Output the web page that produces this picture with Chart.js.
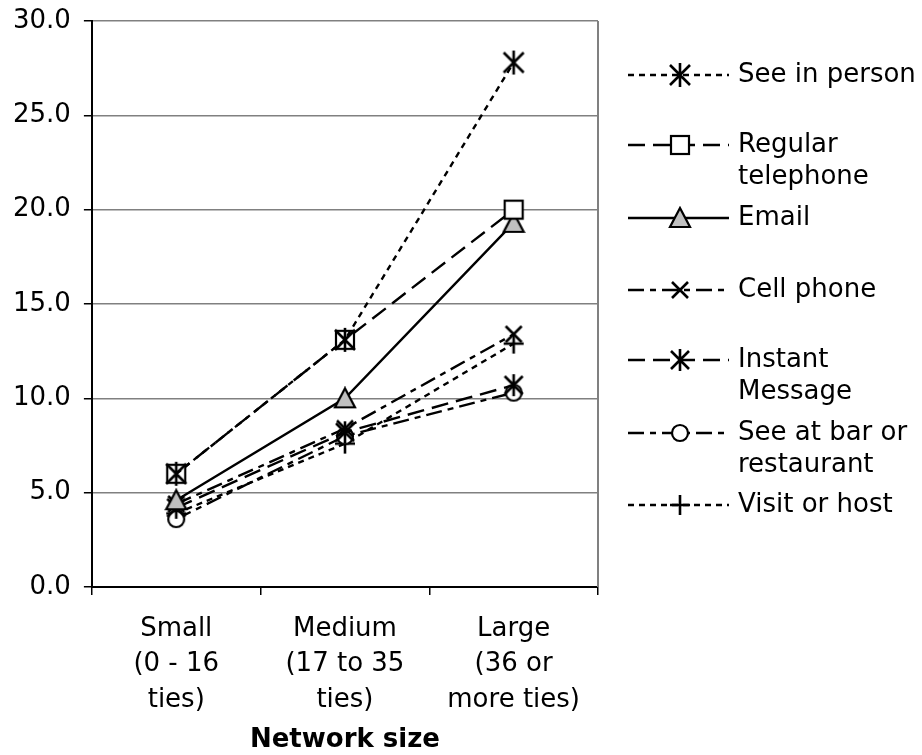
<!DOCTYPE html>
<html><head><meta charset="utf-8">
<script src="https://cdn.jsdelivr.net/npm/chart.js@4"></script>
<style>html,body{margin:0;padding:0;background:#fff}#wrap{width:922px;height:755px}</style>
</head><body><div id="wrap"><canvas id="c" width="922" height="755"></canvas></div>
<script>
const categories = [['Small','(0 - 16','ties)'],['Medium','(17 to 35','ties)'],['Large','(36 or','more ties)']];
const seriesNames = ['See in person',['Regular','telephone'],'Email','Cell phone',['Instant','Message'],['See at bar or','restaurant'],'Visit or host'];
const seeInPerson = [6.0, 13.1, 27.8];
const regularTelephone = [6.0, 13.1, 20.0];
const email = [4.6, 10.0, 19.3];
const cellPhone = [4.4, 8.4, 13.4];
const instantMessage = [4.2, 8.2, 10.7];
const seeAtBar = [3.6, 8.0, 10.3];
const visitOrHost = [3.9, 7.6, 12.9];
const yTicks = [0,5,10,15,20,25,30];
const xTitle = 'Network size';

function mk(size, draw){const c=document.createElement('canvas');c.width=size;c.height=size;const g=c.getContext('2d');g.strokeStyle='#000';g.lineWidth=2;draw(g,size);return c;}
const asterisk = mk(26,(g,s)=>{g.lineWidth=2.6;g.beginPath();g.moveTo(3,3);g.lineTo(23,23);g.moveTo(23,3);g.lineTo(3,23);g.moveTo(13,1);g.lineTo(13,25);g.stroke();});
const asteriskSm = mk(24,(g,s)=>{g.lineWidth=2.6;g.beginPath();g.moveTo(3,3);g.lineTo(21,21);g.moveTo(21,3);g.lineTo(3,21);g.moveTo(12,1);g.lineTo(12,23);g.stroke();});
const square = mk(22,(g)=>{g.fillStyle='#fff';g.fillRect(2,2,18,18);g.lineWidth=2.2;g.strokeRect(2,2,18,18);});
const tri = mk(24,(g)=>{g.fillStyle='#c0c0c0';g.beginPath();g.moveTo(12,2);g.lineTo(22,21);g.lineTo(2,21);g.closePath();g.fill();g.lineWidth=2.2;g.stroke();});
const xmark = mk(22,(g)=>{g.lineWidth=2.6;g.beginPath();g.moveTo(3,3);g.lineTo(19,19);g.moveTo(19,3);g.lineTo(3,19);g.stroke();});
const circ = mk(22,(g)=>{g.fillStyle='#fff';g.beginPath();g.arc(11,11,8,0,Math.PI*2);g.fill();g.lineWidth=2.2;g.stroke();});
const plus = mk(22,(g)=>{g.lineWidth=2.6;g.beginPath();g.moveTo(11,1);g.lineTo(11,21);g.moveTo(1,11);g.lineTo(21,11);g.stroke();});

const styles = [
 {data:seeInPerson, dash:[6,5], pt:asterisk},
 {data:regularTelephone, dash:[17,8], pt:square},
 {data:email, dash:[], pt:tri},
 {data:cellPhone, dash:[16,6,6,6], pt:xmark},
 {data:instantMessage, dash:[17,8], pt:asteriskSm},
 {data:seeAtBar, dash:[16,6,6,6], pt:circ},
 {data:visitOrHost, dash:[6,5], pt:plus}
];
const datasets = styles.map((s,i)=>({label:Array.isArray(seriesNames[i])?seriesNames[i].join(' '):seriesNames[i],data:s.data,borderColor:'#000',borderWidth:2.4,borderDash:s.dash,pointStyle:s.pt,pointRadius:11,pointHoverRadius:11,tension:0,fill:false}));

const FONT = "'DejaVu Sans', Verdana, sans-serif";
const legendY = [75,145,218,290,360,433,505];
const legendPlugin = {id:'customLegend',
 beforeDatasetsDraw(chart){
  const ctx=chart.ctx, a=chart.chartArea;ctx.save();
  ctx.strokeStyle='#808080';ctx.lineWidth=2;ctx.beginPath();ctx.moveTo(a.right,a.top);ctx.lineTo(a.right,a.bottom);ctx.stroke();ctx.restore();
 },
 afterDraw(chart){
  const ctx=chart.ctx;ctx.save();
  styles.forEach((s,i)=>{
    const y=legendY[i];
    ctx.strokeStyle='#000';ctx.lineWidth=2.4;ctx.setLineDash(s.dash);
    ctx.beginPath();ctx.moveTo(628,y);ctx.lineTo(729,y);ctx.stroke();ctx.setLineDash([]);
    ctx.drawImage(s.pt,680-s.pt.width/2,y-s.pt.height/2);
    ctx.fillStyle='#000';ctx.font='26px '+FONT;ctx.textBaseline='middle';ctx.textAlign='left';
    const lines=Array.isArray(seriesNames[i])?seriesNames[i]:[seriesNames[i]];
    lines.forEach((t,k)=>ctx.fillText(t,738,y+k*32));
  });
  ctx.restore();
}};

new Chart(document.getElementById('c'),{
 type:'line',
 data:{labels:categories,datasets},
 options:{responsive:false,animation:false,
  layout:{padding:{left:0,right:324,top:21,bottom:2}},
  plugins:{legend:{display:false},tooltip:{enabled:false}},
  scales:{
   x:{offset:true,
      afterFit(s){s.height=166;},
      grid:{offset:true,drawOnChartArea:false,color:'#000',tickLength:8,tickColor:'#000',lineWidth:1.5},
      border:{color:'#000',width:2},
      ticks:{color:'#000',font:{family:FONT,size:26,lineHeight:1.35},padding:17,maxRotation:0,autoSkip:false},
      title:{display:true,text:xTitle,color:'#000',font:{family:FONT,size:26,weight:'bold',lineHeight:1.0},padding:{top:0,bottom:0}}},
   y:{min:0,max:30,
      afterBuildTicks(ax){ax.ticks=yTicks.map(v=>({value:v}));},
      grid:{color:'#808080',lineWidth:1.5,tickLength:8,tickColor:'#000'},
      border:{color:'#000',width:2},
      ticks:{color:'#000',font:{family:FONT,size:26,lineHeight:0.6},padding:13,callback:v=>Number(v).toFixed(1)}}
  }},
 plugins:[legendPlugin]
});
</script></body></html>
